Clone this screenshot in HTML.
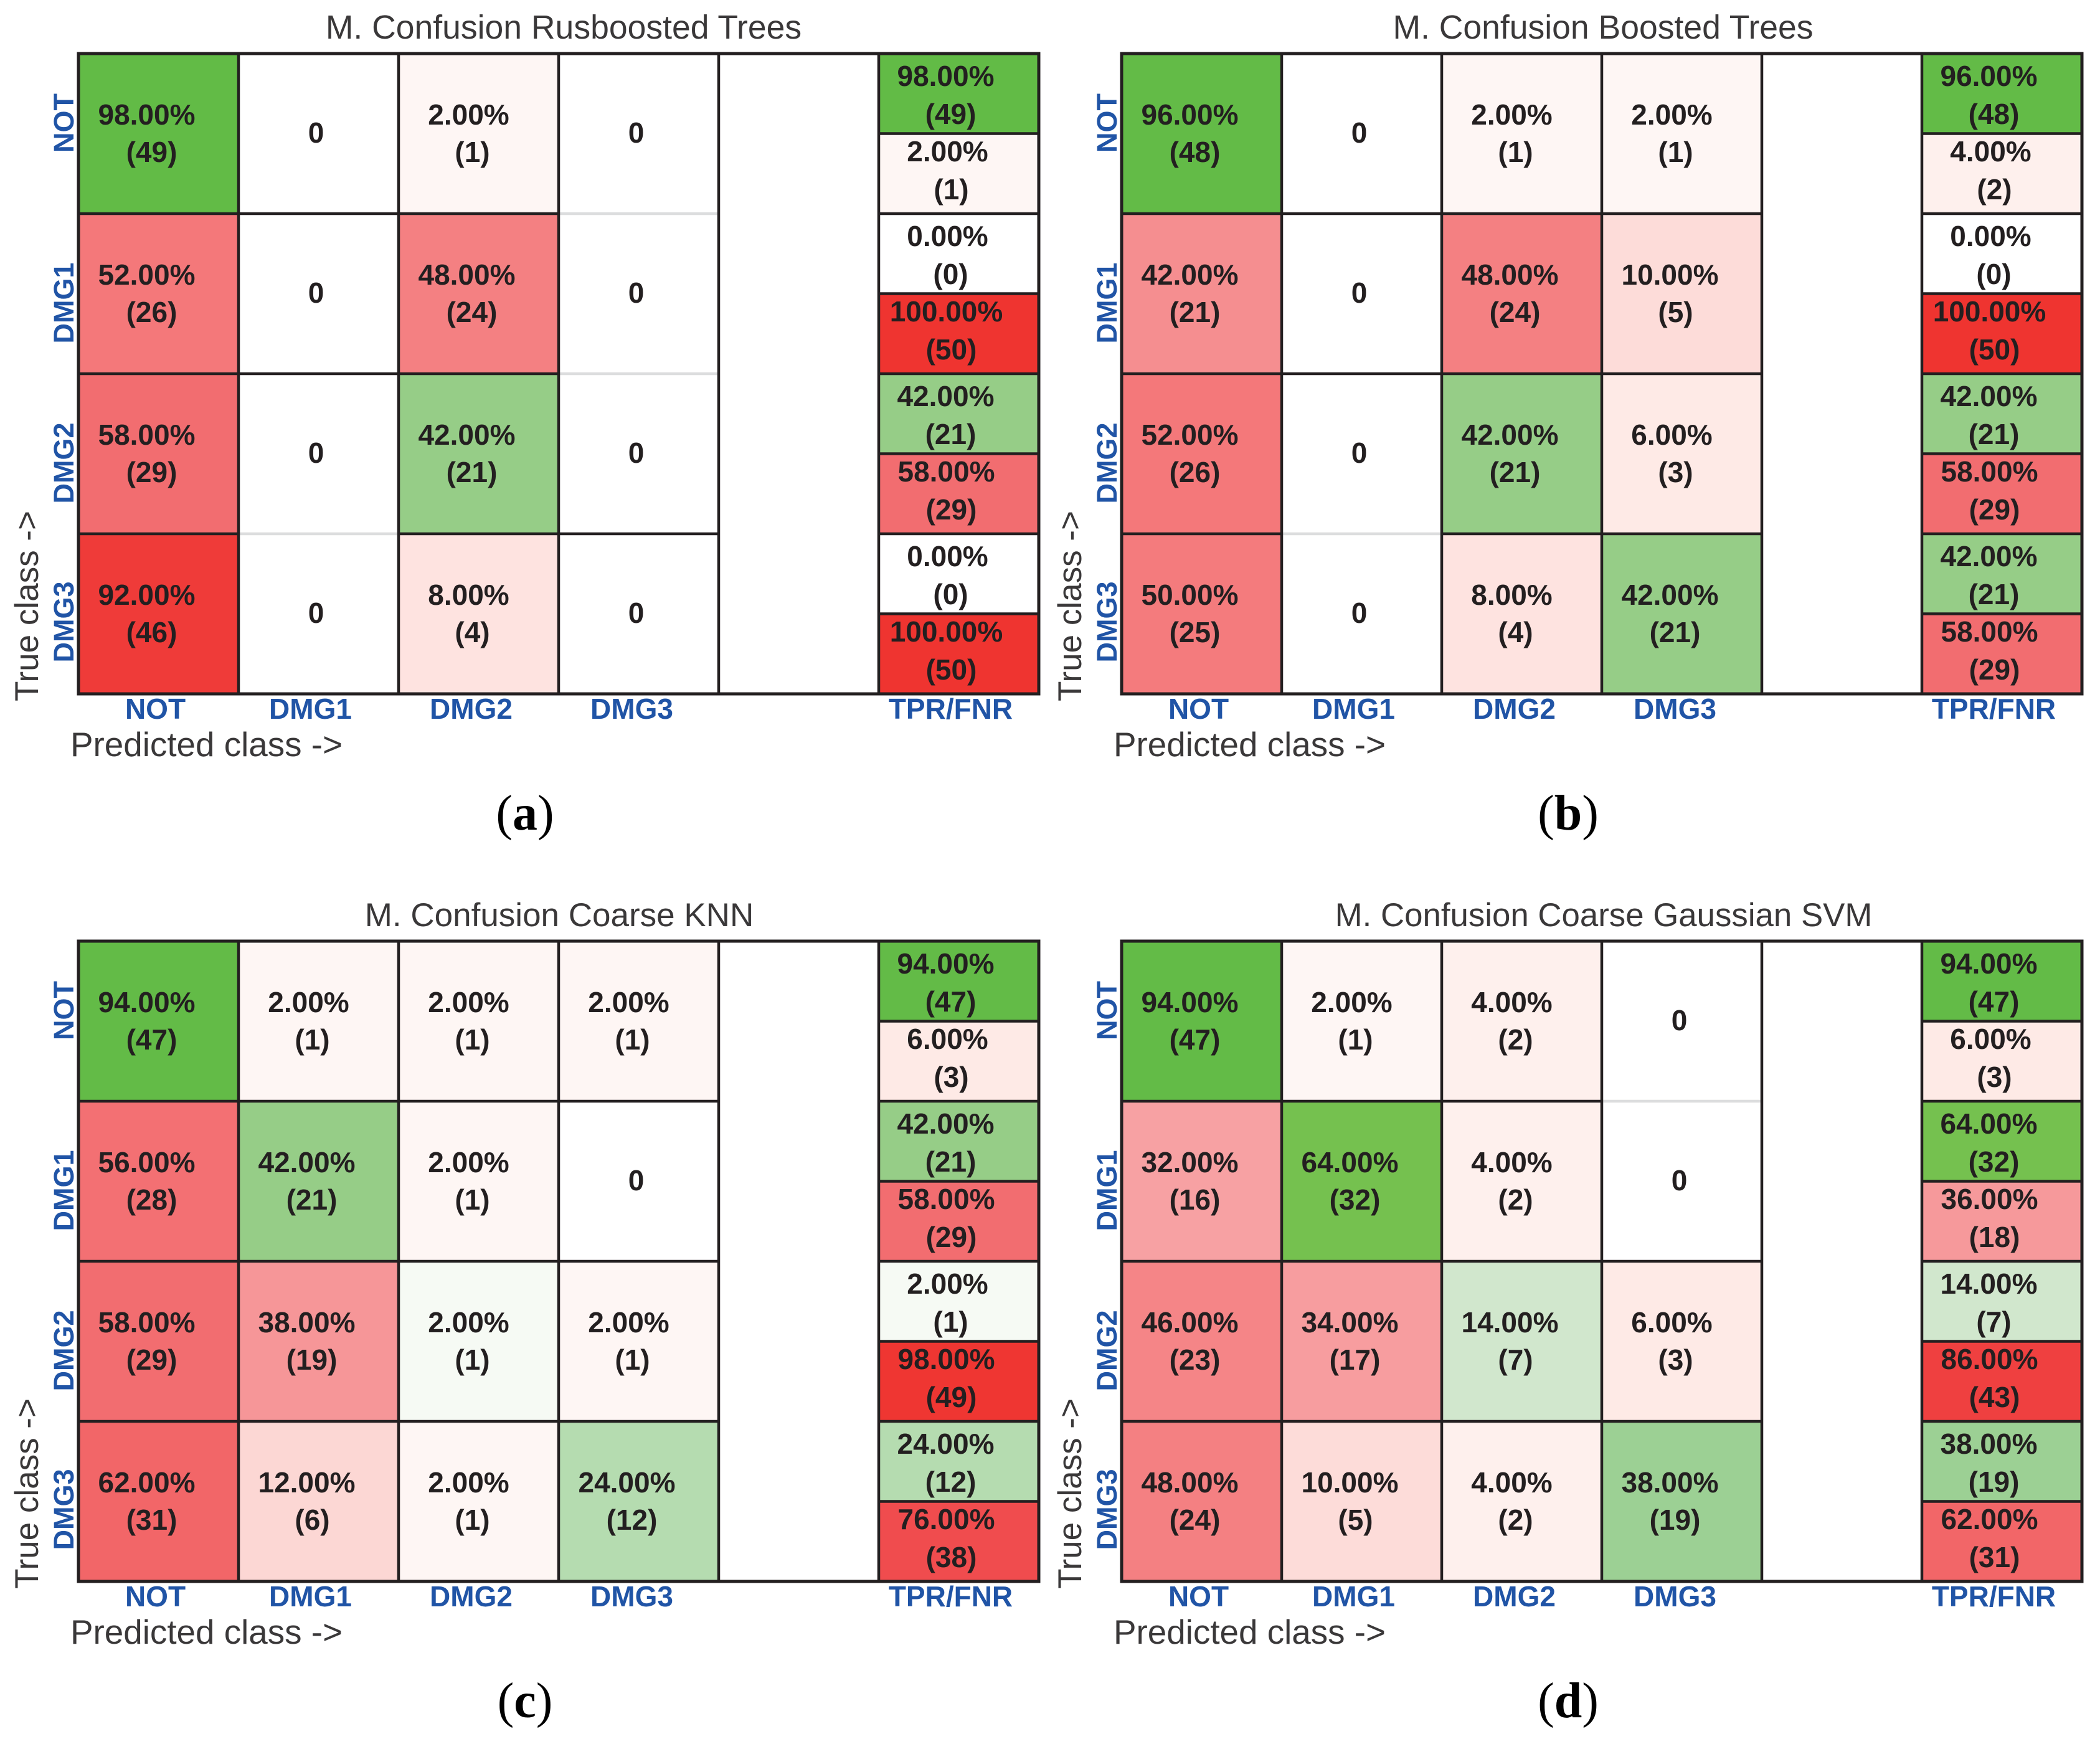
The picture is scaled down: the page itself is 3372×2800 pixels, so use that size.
<!DOCTYPE html>
<html lang="en">
<head>
<meta charset="utf-8">
<title>Confusion matrices</title>
<style>
  html, body { margin: 0; padding: 0; background: #fff; }
  svg { display: block; font-family: "Liberation Sans", sans-serif; }
</style>
</head>
<body>
<svg id="figure" xmlns="http://www.w3.org/2000/svg" width="3372" height="2800" viewBox="0 0 3372 2800"></svg>
<script>
const rowLabels = ['NOT', 'DMG1', 'DMG2', 'DMG3'];
const columnLabels = ['NOT', 'DMG1', 'DMG2', 'DMG3', '', 'TPR/FNR'];
const panelTitles = ['M. Confusion Rusboosted Trees', 'M. Confusion Boosted Trees', 'M. Confusion Coarse KNN', 'M. Confusion Coarse Gaussian SVM'];
const panelLetters = ['a', 'b', 'c', 'd'];
const countsRusboosted = [[49, 0, 1, 0], [26, 0, 24, 0], [29, 0, 21, 0], [46, 0, 4, 0]];
const countsBoosted = [[48, 0, 1, 1], [21, 0, 24, 5], [26, 0, 21, 3], [25, 0, 4, 21]];
const countsKnn = [[47, 1, 1, 1], [28, 21, 1, 0], [29, 19, 1, 1], [31, 6, 1, 12]];
const countsSvm = [[47, 1, 2, 0], [16, 32, 2, 0], [23, 17, 7, 3], [24, 5, 2, 19]];
const allCounts = [countsRusboosted, countsBoosted, countsKnn, countsSvm];
const fadedBoundaries = [[[3, 1], [3, 2], [1, 3]], [[1, 3]], [], [[3, 1]]];

const INK = '#231f20';
const BLUE = '#2054a6';
const LIGHT_INK = '#3a3839';
const FADED = '#dcddde';
const CELL = 257;
const ROWS = 4;
const COLS = 6;
const ORIGIN_X = [126, 1801, 126, 1801];
const ORIGIN_Y = [86, 86, 1511, 1511];
const TITLE_SHIFT = [8, 2, 1, 3];
const TITLE_SIZE = [53.5, 53.5, 53, 52.8];
const X_LABEL_SHIFT = [-5, -13, -12, -11, 0, -13];
const Y_LABEL_SHIFT = [-17, 15, 15, 13];
const GREEN_STOPS = [[0, 255, 255, 255], [2, 246, 250, 244], [14, 209, 231, 205], [24, 181, 220, 176], [38, 156, 208, 148], [42, 150, 205, 135], [64, 117, 193, 79], [94, 99, 187, 71], [100, 98, 187, 70]];
const RED_STOPS = [[0, 255, 255, 255], [2, 254, 246, 244], [6, 254, 234, 230], [10, 253, 220, 217], [32, 247, 161, 163], [42, 245, 142, 144], [50, 244, 123, 125], [58, 242, 109, 112], [76, 240, 76, 78], [86, 239, 64, 64], [100, 239, 52, 48]];

const svg = document.getElementById('figure');

function colorFor(stops, pct) {
  for (let k = 1; k < stops.length; k++) {
    if (pct <= stops[k][0]) {
      const a = stops[k - 1];
      const b = stops[k];
      const t = (pct - a[0]) / (b[0] - a[0]);
      const ch = (n) => Math.round(a[n] + (b[n] - a[n]) * t);
      return 'rgb(' + ch(1) + ',' + ch(2) + ',' + ch(3) + ')';
    }
  }
  const last = stops[stops.length - 1];
  return 'rgb(' + last[1] + ',' + last[2] + ',' + last[3] + ')';
}

function create(tag, parent, props) {
  const el = document.createElementNS('http://www.w3.org/2000/svg', tag);
  for (const key in props) el.setAttribute(key, props[key]);
  parent.appendChild(el);
  return el;
}

function xAxis(ox, col) { return ox + col * CELL; }
function yAxis(oy, row) { return oy + row * CELL; }
function pctOf(count, total) { return total ? count / total * 100 : 0; }
function pctText(value) { return value.toFixed(2) + '%'; }

function cellText(group, x, y, str) {
  const t = create('text', group, { x: x, y: y, 'text-anchor': 'middle', 'font-size': 46, 'font-weight': 'bold', fill: INK });
  
  
  t.textContent = str;
}

function drawPanel(p) {
  const counts = allCounts[p];
  const ox = ORIGIN_X[p];
  const oy = ORIGIN_Y[p];
  const width = COLS * CELL;
  const height = ROWS * CELL;

  const g = create('g', svg, {});
  
  

  const title = create('text', g, { x: ox + width / 2 + TITLE_SHIFT[p], y: oy - 24, 'text-anchor': 'middle', 'font-size': TITLE_SIZE[p], fill: LIGHT_INK });
  
  
  title.textContent = panelTitles[p];

  const lineGroup = [];
  for (let r = 0; r < ROWS; r++) {
    const total = counts[r].reduce((a, b) => a + b, 0);
    for (let c = 0; c < ROWS; c++) {
      const n = counts[r][c];
      const pct = pctOf(n, total);
      const fill = n === 0 ? '#ffffff' : colorFor(r === c ? GREEN_STOPS : RED_STOPS, pct);
      const rect = create('rect', g, { x: xAxis(ox, c), y: yAxis(oy, r), width: CELL, height: CELL, fill: fill });
      
      
      const cx = xAxis(ox, c) + CELL / 2;
      const top = yAxis(oy, r);
      if (n === 0) {
        cellText(g, cx - 4, top + 143, '0');
      } else {
        cellText(g, cx + (pct < 10 ? -16 : -19), top + 114, pctText(pct));
        cellText(g, cx + (n < 10 ? -10 : -11), top + 174, '(' + n + ')');
      }
    }
    const hit = counts[r][r];
    const miss = total - hit;
    const tpr = pctOf(hit, total);
    const fnr = pctOf(miss, total);
    const sx = xAxis(ox, 5);
    const sy = yAxis(oy, r);
    const tprRect = create('rect', g, { x: sx, y: sy, width: CELL, height: CELL / 2, fill: hit === 0 ? '#ffffff' : colorFor(GREEN_STOPS, tpr) });
    
    
    const fnrRect = create('rect', g, { x: sx, y: sy + CELL / 2, width: CELL, height: CELL / 2, fill: miss === 0 ? '#ffffff' : colorFor(RED_STOPS, fnr) });
    
    
    const mx = sx + CELL / 2;
    cellText(g, mx + (tpr < 10 ? -18 : -21), sy + 52, pctText(tpr));
    cellText(g, mx - 13, sy + 113, '(' + hit + ')');
    cellText(g, mx + (fnr < 10 ? -18 : -20), sy + 173, pctText(fnr));
    cellText(g, mx - 12, sy + 234, '(' + miss + ')');
    lineGroup.push(sy + CELL / 2);
  }

  /* row boundaries in the class columns */
  for (let r = 1; r < ROWS; r++) {
    for (let c = 0; c < ROWS; c++) {
      const faded = fadedBoundaries[p].some((b) => b[0] === c && b[1] === r);
      const seg = create('line', g, { x1: xAxis(ox, c), x2: xAxis(ox, c + 1), y1: yAxis(oy, r), y2: yAxis(oy, r), stroke: faded ? FADED : INK, 'stroke-width': 4.5 });
      
      
    }
    const rateSeg = create('line', g, { x1: xAxis(ox, 5), x2: xAxis(ox, 6), y1: yAxis(oy, r), y2: yAxis(oy, r), stroke: INK, 'stroke-width': 4.5 });
    
    
  }
  lineGroup.forEach((y) => {
    const half = create('line', g, { x1: xAxis(ox, 5), x2: xAxis(ox, 6), y1: y, y2: y, stroke: INK, 'stroke-width': 4.5 });
    
    
  });
  for (let c = 1; c < COLS; c++) {
    const v = create('line', g, { x1: xAxis(ox, c), x2: xAxis(ox, c), y1: oy, y2: oy + height, stroke: INK, 'stroke-width': 4.5 });
    
    
  }
  const frame = create('rect', g, { x: ox, y: oy, width: width, height: height, fill: 'none', stroke: INK, 'stroke-width': 5 });
  
  

  /* tick labels */
  for (let c = 0; c < COLS; c++) {
    if (!columnLabels[c]) continue;
    const tick = create('text', g, { x: xAxis(ox, c) + CELL / 2 + X_LABEL_SHIFT[c], y: oy + height + 40, 'text-anchor': 'middle', 'font-size': 46, 'font-weight': 'bold', fill: BLUE });
    
    
    tick.textContent = columnLabels[c];
  }
  for (let r = 0; r < ROWS; r++) {
    const ty = yAxis(oy, r) + CELL / 2 + Y_LABEL_SHIFT[r];
    const tick = create('text', g, { transform: 'translate(' + (ox - 8) + ',' + ty + ') rotate(-90)', 'text-anchor': 'middle', 'font-size': 45, 'font-weight': 'bold', fill: BLUE });
    
    
    tick.textContent = rowLabels[r];
  }

  /* axis titles */
  const yTitle = create('text', g, { transform: 'translate(' + (ox - 65) + ',' + (oy + 887) + ') rotate(-90)', 'text-anchor': 'middle', 'font-size': 53, fill: LIGHT_INK });
  
  
  yTitle.textContent = 'True class ->';

  const xTitle = create('text', g, { x: ox - 13, y: oy + height + 100, 'font-size': 54.8, fill: LIGHT_INK });
  
  
  xTitle.textContent = 'Predicted class ->';

  /* sub-figure caption */
  const caption = create('text', g, { x: ox + 717, y: oy + 1246, 'text-anchor': 'middle', 'font-size': 80, fill: '#000', style: 'font-family:"Liberation Serif",serif' });
  
  
  caption.appendChild(document.createTextNode('('));
  const letter = create('tspan', caption, { 'font-weight': 'bold' });
  letter.textContent = panelLetters[p];
  caption.appendChild(document.createTextNode(')'));
}

allCounts.forEach((_, p) => drawPanel(p));
</script>
</body>
</html>
